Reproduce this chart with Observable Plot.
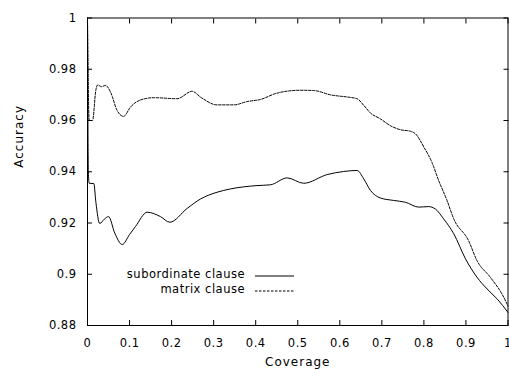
<!DOCTYPE html>
<html>
<head>
<meta charset="utf-8">
<script src="https://cdn.jsdelivr.net/npm/d3@7"></script>
<script src="https://cdn.jsdelivr.net/npm/@observablehq/plot@0.6"></script>
<style>
  html, body { margin: 0; padding: 0; background: #fff; }
  #wrap { position: relative; width: 509px; height: 369px; overflow: hidden; }
  #wrap svg text { letter-spacing: 0.5px; }
  #wrap svg g.axis-title text { font-size: 12px; letter-spacing: 1px; }
  #legend { position: absolute; left: 0; top: 0; font-family: "DejaVu Sans", sans-serif; font-size: 11.5px; letter-spacing: 0.5px; color: #000; }
  #legend .row { position: absolute; white-space: nowrap; }
</style>
</head>
<body>
<div id="wrap"></div>
<script>
// ---- data ----
const seriesNames = ["subordinate clause", "matrix clause"];

const coverageSub = [0, 0.002, 0.004, 0.015, 0.02, 0.029, 0.04, 0.05, 0.065, 0.0825, 0.1, 0.114, 0.142, 0.1735, 0.1956, 0.237, 0.269, 0.308, 0.34, 0.403, 0.435, 0.475, 0.514, 0.57, 0.609, 0.641, 0.657, 0.673, 0.696, 0.728, 0.756, 0.7875, 0.811, 0.827, 0.847, 0.871, 0.899, 0.926, 0.95, 0.974, 1.0];
const accuracySub = [1.0, 0.94, 0.9355, 0.9354, 0.928, 0.9198, 0.9215, 0.9225, 0.916, 0.9116, 0.9155, 0.9186, 0.9242, 0.9225, 0.9203, 0.9257, 0.9294, 0.932, 0.9333, 0.9346, 0.9349, 0.9376, 0.9355, 0.9389, 0.9401, 0.9405, 0.9372, 0.9327, 0.9298, 0.9288, 0.9281, 0.9262, 0.9264, 0.9255, 0.9216, 0.9158, 0.906, 0.8989, 0.8943, 0.8904, 0.8851];

const coverageMat = [0, 0.004, 0.012, 0.02, 0.0245, 0.033, 0.043, 0.055, 0.0705, 0.086, 0.102, 0.126, 0.158, 0.213, 0.249, 0.269, 0.308, 0.348, 0.38, 0.411, 0.451, 0.506, 0.538, 0.578, 0.625, 0.641, 0.657, 0.673, 0.696, 0.72, 0.744, 0.768, 0.78, 0.8, 0.819, 0.835, 0.855, 0.871, 0.906, 0.926, 0.958, 0.99, 1.0];
const accuracyMat = [1.0, 0.96, 0.96, 0.972, 0.9739, 0.9732, 0.9737, 0.971, 0.9639, 0.9616, 0.9652, 0.968, 0.9689, 0.9685, 0.9714, 0.9691, 0.9661, 0.9661, 0.9674, 0.9682, 0.9707, 0.9718, 0.9717, 0.970, 0.969, 0.9685, 0.9659, 0.9629, 0.9607, 0.958, 0.9564, 0.9558, 0.9548, 0.9496, 0.9437, 0.9366, 0.9288, 0.9216, 0.9132, 0.9054, 0.8988, 0.891, 0.8875];

const xTicks = [0, 0.1, 0.2, 0.3, 0.4, 0.5, 0.6, 0.7, 0.8, 0.9, 1];
const yTicks = [0.88, 0.9, 0.92, 0.94, 0.96, 0.98, 1];
const xLabel = "Coverage";
const yLabel = "Accuracy";

// ---- tables ----
const subData = coverageSub.map((c, i) => ({coverage: c, accuracy: accuracySub[i]}));
const matData = coverageMat.map((c, i) => ({coverage: c, accuracy: accuracyMat[i]}));

const chart = Plot.plot({
  width: 509,
  height: 369,
  marginLeft: 87,
  marginRight: 1.5,
  marginTop: 17.5,
  marginBottom: 44,
  style: {fontFamily: "DejaVu Sans, sans-serif", fontSize: "11.5px", color: "#000", background: "#fff"},
  x: {domain: [0, 1]},
  y: {domain: [0.88, 1]},
  marks: [
    Plot.axisX({ticks: xTicks, tickSize: -5, tickPadding: 18, label: null, tickFormat: d => String(d)}),
    Plot.axisX({anchor: "top", ticks: xTicks, tickSize: -5, label: null, tickFormat: () => ""}),
    Plot.axisY({ticks: yTicks, tickSize: -5, tickPadding: 16, label: null, tickFormat: d => String(d)}),
    Plot.axisY({anchor: "right", ticks: yTicks, tickSize: -5, label: null, tickFormat: () => ""}),
    Plot.line(subData, {x: "coverage", y: "accuracy", stroke: "#000", strokeWidth: 1, curve: "monotone-x"}),
    Plot.line(matData, {x: "coverage", y: "accuracy", stroke: "#000", strokeWidth: 1, strokeDasharray: "2.5,1.5", curve: "monotone-x"}),
    Plot.frame({stroke: "#000", strokeWidth: 1}),
    Plot.text([xLabel], {frameAnchor: "bottom", dy: 37, lineAnchor: "middle", fill: "#000", className: "axis-title"}),
    Plot.text([yLabel], {frameAnchor: "left", dx: -68, dy: -4, rotate: -90, lineAnchor: "middle", fill: "#000", className: "axis-title"})
  ]
});
document.getElementById("wrap").appendChild(chart);

// ---- legend ----
const legend = document.createElement("div");
legend.id = "legend";
const dashes = [null, "2.5,1.5"];
seriesNames.forEach((name, i) => {
  const row = document.createElement("div");
  row.className = "row";
  row.style.left = "0px";
  row.style.width = "245px";
  row.style.textAlign = "right";
  row.style.top = (267 + i * 14.5) + "px";
  row.textContent = name;
  legend.appendChild(row);
  const ns = "http://www.w3.org/2000/svg";
  const s = document.createElementNS(ns, "svg");
  s.setAttribute("width", "40");
  s.setAttribute("height", "4");
  s.style.position = "absolute";
  s.style.left = "255px";
  s.style.top = (274 + i * 14.5) + "px";
  const l = document.createElementNS(ns, "line");
  l.setAttribute("x1", "0"); l.setAttribute("x2", "39");
  l.setAttribute("y1", "2"); l.setAttribute("y2", "2");
  l.setAttribute("stroke", "#000");
  l.setAttribute("stroke-width", "1");
  if (dashes[i]) l.setAttribute("stroke-dasharray", dashes[i]);
  s.appendChild(l);
  legend.appendChild(s);
});
document.getElementById("wrap").appendChild(legend);
</script>
</body>
</html>
